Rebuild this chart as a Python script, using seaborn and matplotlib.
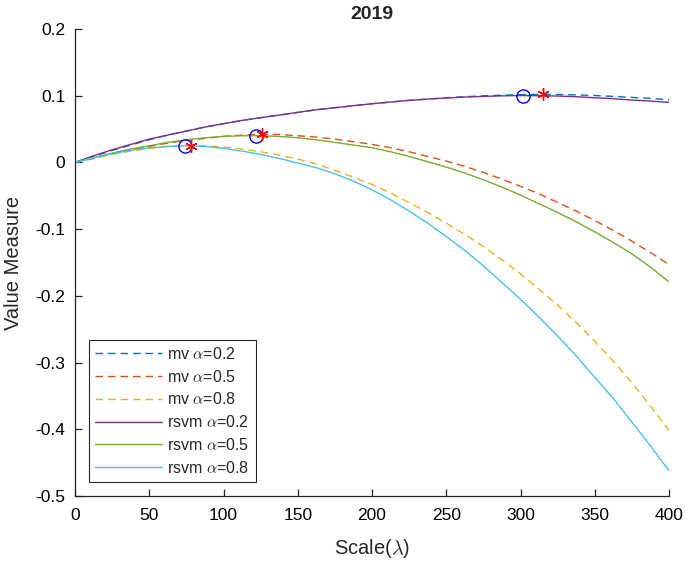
import matplotlib
matplotlib.use("Agg")
import matplotlib.pyplot as plt
import seaborn as sns
import pandas as pd
from matplotlib.ticker import FixedLocator, FixedFormatter

# ---- data ----
lam = [0, 12.5, 25, 37.5, 50, 62.5, 75, 87.5, 100, 112.5, 125, 137.5, 150, 162.5,
       175, 187.5, 200, 212.5, 225, 237.5, 250, 262.5, 275, 287.5, 300, 312.5,
       325, 337.5, 350, 362.5, 375, 387.5, 400]

mv_02 = [0, 0.009, 0.018, 0.026, 0.034, 0.041, 0.047, 0.053, 0.058, 0.063, 0.067,
         0.071, 0.075, 0.079, 0.082, 0.085, 0.088, 0.0905, 0.093, 0.095, 0.097,
         0.0985, 0.0998, 0.1008, 0.1015, 0.102, 0.1018, 0.1012, 0.1003, 0.099,
         0.0975, 0.096, 0.094]
mv_05 = [0, 0.006, 0.013, 0.019, 0.024, 0.029, 0.033, 0.036, 0.039, 0.041, 0.042,
         0.042, 0.040, 0.038, 0.035, 0.031, 0.027, 0.022, 0.016, 0.009, 0.002,
         -0.006, -0.015, -0.025, -0.036, -0.047, -0.060, -0.073, -0.087, -0.102,
         -0.118, -0.135, -0.153]
mv_08 = [0, 0.006, 0.012, 0.017, 0.021, 0.024, 0.025, 0.025, 0.023, 0.020, 0.016,
         0.011, 0.005, -0.002, -0.012, -0.022, -0.033, -0.046, -0.060, -0.075,
         -0.091, -0.108, -0.126, -0.146, -0.167, -0.190, -0.214, -0.240, -0.268,
         -0.298, -0.330, -0.365, -0.402]
rsvm_02 = [0, 0.010, 0.019, 0.027, 0.035, 0.041, 0.047, 0.053, 0.058, 0.063, 0.067,
           0.071, 0.075, 0.079, 0.082, 0.085, 0.088, 0.0905, 0.093, 0.095, 0.0965,
           0.098, 0.099, 0.0998, 0.1002, 0.100, 0.0995, 0.0985, 0.097, 0.0955,
           0.0935, 0.092, 0.090]
rsvm_05 = [0, 0.007, 0.014, 0.020, 0.025, 0.030, 0.034, 0.037, 0.039, 0.040, 0.040,
           0.039, 0.037, 0.034, 0.030, 0.026, 0.022, 0.016, 0.009, 0.001, -0.007,
           -0.016, -0.026, -0.037, -0.049, -0.062, -0.075, -0.089, -0.104, -0.120,
           -0.137, -0.157, -0.179]
rsvm_08 = [0, 0.007, 0.013, 0.018, 0.022, 0.024, 0.025, 0.024, 0.021, 0.017, 0.012,
           0.006, -0.001, -0.008, -0.017, -0.028, -0.041, -0.056, -0.073, -0.091,
           -0.111, -0.132, -0.155, -0.180, -0.205, -0.232, -0.260, -0.290, -0.322,
           -0.354, -0.389, -0.425, -0.462]

series_names = ["mv $\\alpha$=0.2", "mv $\\alpha$=0.5", "mv $\\alpha$=0.8",
                "rsvm $\\alpha$=0.2", "rsvm $\\alpha$=0.5", "rsvm $\\alpha$=0.8"]
series_values = [mv_02, mv_05, mv_08, rsvm_02, rsvm_05, rsvm_08]

# optimum markers
rsvm_opt_x = [302, 122, 74]
rsvm_opt_y = [0.100, 0.040, 0.025]
mv_opt_x = [315, 126, 78]
mv_opt_y = [0.102, 0.042, 0.025]

x_ticks = [0, 50, 100, 150, 200, 250, 300, 350, 400]
x_tick_labels = ["0", "50", "100", "150", "200", "250", "300", "350", "400"]
y_ticks = [-0.5, -0.4, -0.3, -0.2, -0.1, 0, 0.1, 0.2]
y_tick_labels = ["-0.5", "-0.4", "-0.3", "-0.2", "-0.1", "0", "0.1", "0.2"]

title = "2019"
xlabel = "Scale($\\lambda$)"
ylabel = "Value Measure"

# ---- styling ----
sns.set_style("ticks")
plt.rcParams['font.family'] = ['Liberation Sans', 'DejaVu Sans']
plt.rcParams['mathtext.fontset'] = 'cm'
plt.rcParams['axes.unicode_minus'] = False

colors = ["#0072BD", "#D95319", "#EDB120", "#7E2F8E", "#77AC30", "#4DBEEE"]
styles = ["--", "--", "--", "-", "-", "-"]

fig = plt.figure(figsize=(6.85, 5.63), dpi=100)
ax = fig.add_axes([75 / 685, 1 - 496 / 563, (669 - 75) / 685, (496 - 29) / 563])

for name, vals, c, ls in zip(series_names, series_values, colors, styles):
    df = pd.DataFrame({"lam": lam, "val": vals})
    sns.lineplot(data=df, x="lam", y="val", ax=ax, color=c, linewidth=1.0,
                 label=name, estimator=None, sort=False)
    line = ax.get_lines()[-1]
    if ls == "--":
        line.set_dashes((5.5, 3.5))

ax.plot(rsvm_opt_x, rsvm_opt_y, linestyle="none", marker="o", markersize=9.5,
        markerfacecolor="none", markeredgecolor="#0000FF", markeredgewidth=1.0, zorder=5)
ax.plot(mv_opt_x, mv_opt_y, linestyle="none", marker=(6, 2, 0), markersize=9,
        markeredgecolor="#FF0000", color="#FF0000", markeredgewidth=1.0, zorder=5)

ax.set_xlim(0, 400)
ax.set_ylim(-0.5, 0.2)
ax.xaxis.set_major_locator(FixedLocator(x_ticks))
ax.xaxis.set_major_formatter(FixedFormatter(x_tick_labels))
ax.yaxis.set_major_locator(FixedLocator(y_ticks))
ax.yaxis.set_major_formatter(FixedFormatter(y_tick_labels))

for s in ["top", "right"]:
    ax.spines[s].set_visible(False)
for s in ["left", "bottom"]:
    ax.spines[s].set_color("#262626")
    ax.spines[s].set_linewidth(0.9)
ax.tick_params(direction="in", length=5, width=0.9, colors="#262626",
               labelsize=12.5, labelcolor="black")
ax.tick_params(axis="x", pad=9)
ax.tick_params(axis="y", pad=7)

ax.set_title(title, fontsize=14, fontweight="bold", pad=7)
ax.set_xlabel(xlabel, fontsize=14.5, labelpad=10)
ax.set_ylabel(ylabel, fontsize=14.5, labelpad=9)

leg = ax.legend(loc="lower left", bbox_to_anchor=(0.023, 0.03), fontsize=11.5,
                frameon=True, fancybox=False, framealpha=1, edgecolor="#262626",
                handlelength=4.2, handletextpad=0.3, borderpad=0.4, labelspacing=0.42,
                borderaxespad=0)
leg.get_frame().set_linewidth(0.8)

fig.savefig("out.png", dpi=100)
